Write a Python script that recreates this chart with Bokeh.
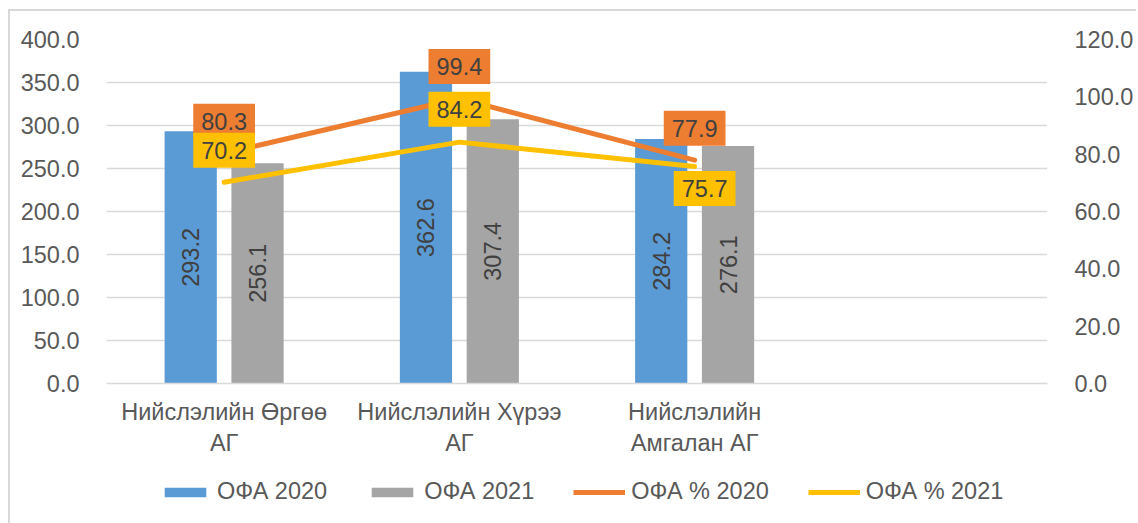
import math
from bokeh.plotting import figure
from bokeh.layouts import column
from bokeh.core.properties import value
from bokeh.models import (ColumnDataSource, Range1d, LinearAxis, LabelSet, Label, FixedTicker,
                          Legend, LegendItem, NumeralTickFormatter, SingleIntervalTicker)
from bokeh.transform import dodge
from bokeh.embed import file_html
from bokeh.resources import INLINE

# ---- data ----
categories = ["Нийслэлийн Өргөө\nАГ", "Нийслэлийн Хүрээ\nАГ", "Нийслэлийн\nАмгалан АГ"]
n_slots = 4  # the category axis has one empty slot at the end
ofa_2020 = [293.2, 362.6, 284.2]
ofa_2021 = [256.1, 307.4, 276.1]
pct_2020 = [80.3, 99.4, 77.9]
pct_2021 = [70.2, 84.2, 75.7]
series_names = ["ОФА 2020", "ОФА 2021", "ОФА % 2020", "ОФА % 2021"]

# ---- styles ----
BLUE, GRAY, ORANGE, YELLOW = "#5B9BD5", "#A5A5A5", "#ED7D31", "#FFC000"
FONT = "Liberation Sans"
FS = "23.5px"
AXIS_TXT = "#595959"
LABEL_TXT = "#404040"
GRID = "#d9d9d9"

xpos = [i + 0.5 for i in range(len(categories))]
src = ColumnDataSource(dict(
    x=xpos,
    v20=ofa_2020, v21=ofa_2021,
    h20=[v / 2 for v in ofa_2020], h21=[v / 2 for v in ofa_2021],
    t20=[f"{v:.1f}" for v in ofa_2020], t21=[f"{v:.1f}" for v in ofa_2021],
    p20=pct_2020, p21=pct_2021,
))

p = figure(x_range=Range1d(0, n_slots), y_range=Range1d(0, 400), width=1126, height=460,
           output_backend="svg", toolbar_location=None,
           min_border_left=96, min_border_right=84, min_border_top=28, min_border_bottom=88)
p.outline_line_color = None
p.background_fill_color = "white"
p.border_fill_color = "white"
p.extra_y_ranges = {"pct": Range1d(0, 120)}

OFF = 0.142
W = 0.222
p.vbar(x=dodge("x", -OFF), top="v20", width=W, source=src, fill_color=BLUE, line_color=None)
p.vbar(x=dodge("x", OFF), top="v21", width=W, source=src, fill_color=GRAY, line_color=None)
p.line(x="x", y="p20", source=src, y_range_name="pct", line_color=ORANGE,
       line_width=5, line_cap="round", line_join="round")
p.line(x="x", y="p21", source=src, y_range_name="pct", line_color=YELLOW,
       line_width=5, line_cap="round", line_join="round")

# bar value labels (rotated)
for col_y, col_t, off in (("h20", "t20", -OFF), ("h21", "t21", OFF)):
    p.add_layout(LabelSet(x=dodge("x", off), y=col_y, text=col_t, source=src,
                          angle=math.pi / 2, text_align="center", text_baseline="middle",
                          text_font=value(FONT), text_font_size=value(FS), text_color=LABEL_TXT))

# line data labels with filled boxes
label_offsets_2020 = [(0, 32), (0, 32), (0, 32)]
label_offsets_2021 = [(0, 32), (0, 33), (10, -22)]
for vals, offs, col in ((pct_2020, label_offsets_2020, ORANGE), (pct_2021, label_offsets_2021, YELLOW)):
    for xv, v, (dx, dy) in zip(xpos, vals, offs):
        p.add_layout(Label(x=xv, y=v, y_range_name="pct", x_offset=dx, y_offset=dy,
                           text=f"{v:.1f}", text_align="center", text_baseline="middle",
                           text_font=FONT, text_font_size=FS, text_color=LABEL_TXT,
                           background_fill_color=col, padding=(8, 9)))

# axes
p.xaxis.ticker = FixedTicker(ticks=xpos)
p.xaxis.major_label_overrides = {xv: c for xv, c in zip(xpos, categories)}
p.xaxis.major_label_text_font = FONT
p.xaxis.major_label_text_font_size = FS
p.xaxis.major_label_text_color = AXIS_TXT
p.xaxis.major_label_standoff = 9
p.xaxis.axis_line_color = GRID
p.xaxis.axis_line_width = 1.5
p.xaxis.major_tick_line_color = None
p.xaxis.minor_tick_line_color = None

p.yaxis.ticker = SingleIntervalTicker(interval=50)
p.yaxis.formatter = NumeralTickFormatter(format="0.0")
yr = LinearAxis(y_range_name="pct", ticker=SingleIntervalTicker(interval=20),
                formatter=NumeralTickFormatter(format="0.0"))
p.add_layout(yr, "right")
for ax in (p.yaxis[0], yr):
    ax.axis_line_color = None
    ax.major_tick_line_color = None
    ax.minor_tick_line_color = None
    ax.major_label_text_font = FONT
    ax.major_label_text_font_size = FS
    ax.major_label_text_color = AXIS_TXT
    ax.major_label_standoff = 21

p.xgrid.grid_line_color = None
p.ygrid.grid_line_color = GRID
p.ygrid.grid_line_width = 1.5
p.ygrid.ticker = SingleIntervalTicker(interval=50)

# ---- legend strip (a second, axis-less figure holding only the legend) ----
leg = figure(width=1126, height=52, x_range=Range1d(0, 1), y_range=Range1d(0, 1),
             x_axis_type=None, y_axis_type=None, output_backend="svg", toolbar_location=None,
             min_border=0)
leg.outline_line_color = None
leg.border_fill_color = "white"
# legend carriers: one point placed outside the strip's visible range
lr = [
    leg.vbar(x=[-5], top=[-5], width=0.1, fill_color=BLUE, line_color=None),
    leg.vbar(x=[-5], top=[-5], width=0.1, fill_color=GRAY, line_color=None),
    leg.line(x=[-5, -4], y=[-5, -5], line_color=ORANGE, line_width=5),
    leg.line(x=[-5, -4], y=[-5, -5], line_color=YELLOW, line_width=5),
]
legend = Legend(items=[LegendItem(label=n, renderers=[r]) for n, r in zip(series_names, lr)],
                orientation="horizontal", location=(53, 18),
                glyph_width=52, glyph_height=12, label_standoff=6, spacing=39,
                padding=0, margin=0, border_line_color=None, background_fill_alpha=0,
                label_text_font=FONT, label_text_font_size=FS, label_text_color=AXIS_TXT)
leg.add_layout(legend, "center")

layout = column(p, leg, spacing=0,
                styles={"position": "relative", "left": "8px", "top": "9px",
                        "border-left": "2px solid #d9d9d9", "border-top": "2px solid #d9d9d9"})

open("out.html", "w").write(file_html(layout, INLINE))
